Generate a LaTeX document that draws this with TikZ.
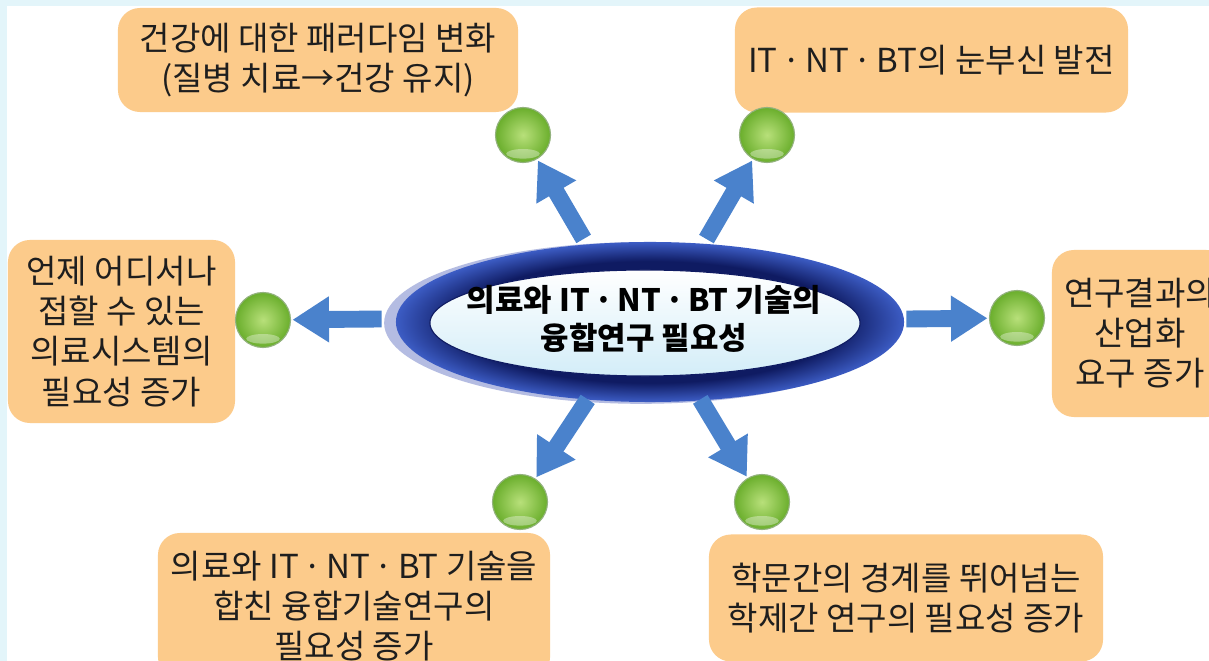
\documentclass[tikz,border=0pt]{standalone}
\usepackage{fontspec}
\setmainfont{Noto Sans CJK KR}
\usepackage{xcolor}
\usepackage{tikz}
\usetikzlibrary{arrows.meta,shapes.geometric}
\definecolor{mapBox}{HTML}{FCCB8B}
\definecolor{mapText}{HTML}{1E1E1E}
\definecolor{mapArrow}{HTML}{4A82CC}
\definecolor{mapNavy}{HTML}{0F1B62}
\definecolor{mapRing}{HTML}{3C5CC4}
\definecolor{mapHalo}{HTML}{B4BCE2}
\definecolor{mapInner}{HTML}{D3EDF8}
\definecolor{mapOrbIn}{HTML}{B8E07A}
\definecolor{mapOrbOut}{HTML}{6AAE2C}
\definecolor{mapOrbEdge}{HTML}{93B27E}
\definecolor{mapFrame}{HTML}{E3F5FA}
\pgfdeclareradialshading{ringshade}{\pgfpoint{0bp}{0bp}}{color(0bp)=(mapNavy); color(19bp)=(mapNavy); color(25bp)=(mapRing); color(50bp)=(mapRing)}
\newcommand{\mdot}{\hspace{0.14em}·\hspace{0.14em}}

\begin{document}
\begin{tikzpicture}[x=0.025cm, y=-0.025cm,
    topic/.style={rectangle, fill=mapBox, rounded corners=0.55cm, inner sep=0pt, align=center, text=mapText, font=\fontsize{23.5}{28.5}\selectfont},
    orb/.style={circle, minimum size=1.375cm, inner sep=0pt, draw=mapOrbEdge, line width=0.8pt, inner color=mapOrbIn, outer color=mapOrbOut,
        path picture={\fill[white, opacity=.35] ([yshift=-0.47cm]path picture bounding box.center) ellipse [x radius=0.42cm, y radius=0.12cm];}},
    hub/.style={ellipse, minimum width=13.1cm, minimum height=4.1cm, inner sep=0pt, align=center, text=black, font=\fontsize{22}{27}\selectfont\bfseries},
    flow/.style={-{Triangle[length=26pt, width=31pt]}, line width=12pt, draw=mapArrow, shorten >=1pt}
]
\useasboundingbox (0,0) rectangle (1209,661);
\clip (0,0) rectangle (1209,661);

% Frame
\fill[mapFrame] (0,0) rectangle (1209,661);
\fill[white] (7,6) rectangle (1220,670);

% Center ellipse
\fill[mapHalo] (641,323) ellipse [x radius=6.42cm, y radius=2.02cm];
\shade[shading=ringshade] (650,322) ellipse [x radius=6.35cm, y radius=2cm];
\shade[top color=white, bottom color=mapInner, draw=mapNavy, line width=0.8pt] (645,323) ellipse [x radius=5.375cm, y radius=1.325cm];
\node[hub] (hub) at (644,319) {의료와 IT\mdot NT\mdot BT 기술의\\융합연구 필요성};

% Topic boxes
\node[topic, minimum width=10cm, minimum height=2.6cm] (health) at (318,60) {건강에 대한 패러다임 변화\\(질병 치료→건강 유지)};
\node[topic, minimum width=9.825cm, minimum height=2.625cm] (tech) at (931.5,60) {IT\mdot NT\mdot BT의 눈부신 발전};
\node[topic, minimum width=5.675cm, minimum height=4.575cm] (anywhere) at (121.5,331.5) {언제 어디서나\\접할 수 있는\\의료시스템의\\필요성 증가};
\node[topic, minimum width=4.4cm, minimum height=4.175cm] (industry) at (1140,333.5) {연구결과의\\산업화\\요구 증가};
\node[topic, minimum width=9.8cm, minimum height=3.65cm] (fusion) at (354,606) {의료와 IT\mdot NT\mdot BT 기술을\\합친 융합기술연구의\\필요성 증가};
\node[topic, minimum width=9.85cm, minimum height=3.175cm] (crossfield) at (906,598) {학문간의 경계를 뛰어넘는\\학제간 연구의 필요성 증가};

% Orbs
\node[orb] (orbhealth) at (523,135) {};
\node[orb] (orbtech) at (767,135) {};
\node[orb] (orbanywhere) at (263,320) {};
\node[orb] (orbindustry) at (1017,318) {};
\node[orb] (orbfusion) at (520,502) {};
\node[orb] (orbcross) at (762,502) {};

% Connections
\draw[flow] (hub.127) -- (orbhealth);
\draw[flow] (hub.52) -- (orbtech);
\draw[flow] (hub.west) -- (orbanywhere);
\draw[flow] (hub.east) -- (orbindustry);
\draw[flow] (hub.235) -- (orbfusion);
\draw[flow] (hub.305) -- (orbcross);

\end{tikzpicture}
\end{document}
